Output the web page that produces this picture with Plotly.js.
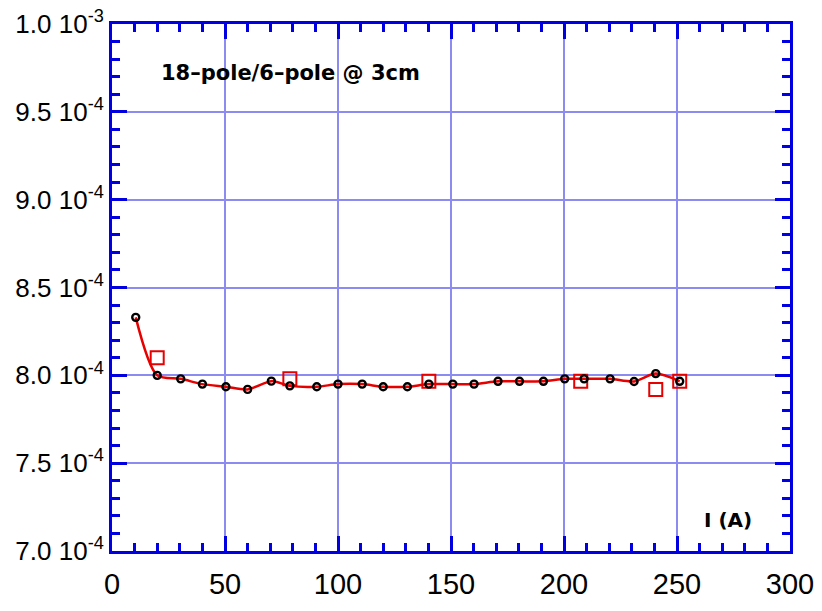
<!DOCTYPE html>
<html><head><meta charset="utf-8">
<script src="https://cdn.plot.ly/plotly-3.0.1.min.js"></script>
<style>body{margin:0;background:#fff}</style>
</head><body>
<div id="chart" style="width:822px;height:611px"></div>
<script>
// Measured points (black circles, joined by red smooth curve)
var current = [10.5, 20, 30.4, 40, 50.4, 60, 70.5, 78.7, 90.6, 100, 110.7, 120, 130.7, 140.2, 150.8, 160.2, 170.8, 180.3, 190.9, 200.3, 208.9, 220.4, 231, 240.6, 251.2];
var ratio = [8.33e-4, 8.00e-4, 7.98e-4, 7.95e-4, 7.935e-4, 7.92e-4, 7.967e-4, 7.94e-4, 7.935e-4, 7.95e-4, 7.95e-4, 7.935e-4, 7.935e-4, 7.95e-4, 7.95e-4, 7.95e-4, 7.966e-4, 7.966e-4, 7.966e-4, 7.98e-4, 7.98e-4, 7.98e-4, 7.965e-4, 8.01e-4, 7.966e-4];
// Red square markers
var sqCurrent = [20, 78.7, 140.2, 207.4, 240.6, 251.2];
var sqRatio = [8.10e-4, 7.98e-4, 7.966e-4, 7.966e-4, 7.92e-4, 7.966e-4];
// Tick labels
var yTickVals = [7.0e-4, 7.5e-4, 8.0e-4, 8.5e-4, 9.0e-4, 9.5e-4, 1.0e-3];
var yTickText = ['7.0 10<sup>-4</sup>', '7.5 10<sup>-4</sup>', '8.0 10<sup>-4</sup>', '8.5 10<sup>-4</sup>', '9.0 10<sup>-4</sup>', '9.5 10<sup>-4</sup>', '1.0 10<sup>-3</sup>'];
var xTickVals = [0, 50, 100, 150, 200, 250, 300];

var axisColor = '#0000e0';
var gridColor = '#8c8cf0';

var traces = [
  {x: current, y: ratio, mode: 'lines', line: {color: '#e60000', width: 2.5, shape: 'spline', smoothing: 0.8}, hoverinfo: 'skip'},
  {x: sqCurrent, y: sqRatio, mode: 'markers', marker: {symbol: 'square-open', size: 13, color: '#e60000', line: {width: 2, color: '#e60000'}}},
  {x: current, y: ratio, mode: 'markers', marker: {symbol: 'circle-open', size: 7, color: '#000', line: {width: 2.4, color: '#000'}}}
];

var layout = {
  width: 822, height: 611,
  margin: {l: 112, r: 32, t: 24, b: 60},
  paper_bgcolor: '#fff', plot_bgcolor: '#fff',
  showlegend: false,
  font: {family: 'Liberation Sans, Arial, sans-serif', color: '#000'},
  xaxis: {
    range: [0, 300], tickmode: 'array', tickvals: xTickVals,
    ticks: 'inside', ticklen: 15, tickwidth: 3, tickcolor: axisColor,
    showline: true, linecolor: axisColor, linewidth: 3, mirror: 'ticks',
    showgrid: true, gridcolor: gridColor, gridwidth: 2,
    zeroline: false, tickfont: {size: 29, color: '#000'},
    ticklabelstandoff: 5,
    minor: {tickmode: 'linear', tick0: 0, dtick: 10, ticks: 'inside', ticklen: 8, tickwidth: 3, tickcolor: axisColor, showgrid: false}
  },
  yaxis: {
    range: [7.0e-4, 1.0e-3], tickmode: 'array', tickvals: yTickVals, ticktext: yTickText,
    ticks: 'inside', ticklen: 15, tickwidth: 3, tickcolor: axisColor,
    showline: true, linecolor: axisColor, linewidth: 3, mirror: 'ticks',
    showgrid: true, gridcolor: gridColor, gridwidth: 2,
    zeroline: false, tickfont: {size: 26, color: '#000'},
    minor: {tickmode: 'linear', tick0: 7.0e-4, dtick: 1.0e-5, ticks: 'inside', ticklen: 8, tickwidth: 3, tickcolor: axisColor, showgrid: false}
  },
  annotations: [
    {text: '<b>18\u2013pole/6\u2013pole @ 3cm</b>', xref: 'paper', yref: 'paper', x: 0.07, y: 0.907, xanchor: 'left', yanchor: 'middle', showarrow: false, font: {family: 'DejaVu Sans', size: 21, color: '#000'}},
    {text: '<b>I (A)</b>', xref: 'paper', yref: 'paper', x: 0.947, y: 0.058, xanchor: 'right', yanchor: 'middle', showarrow: false, font: {family: 'DejaVu Sans', size: 20, color: '#000'}}
  ]
};

Plotly.newPlot('chart', traces, layout, {displayModeBar: false, staticPlot: true});
</script>
</body></html>
